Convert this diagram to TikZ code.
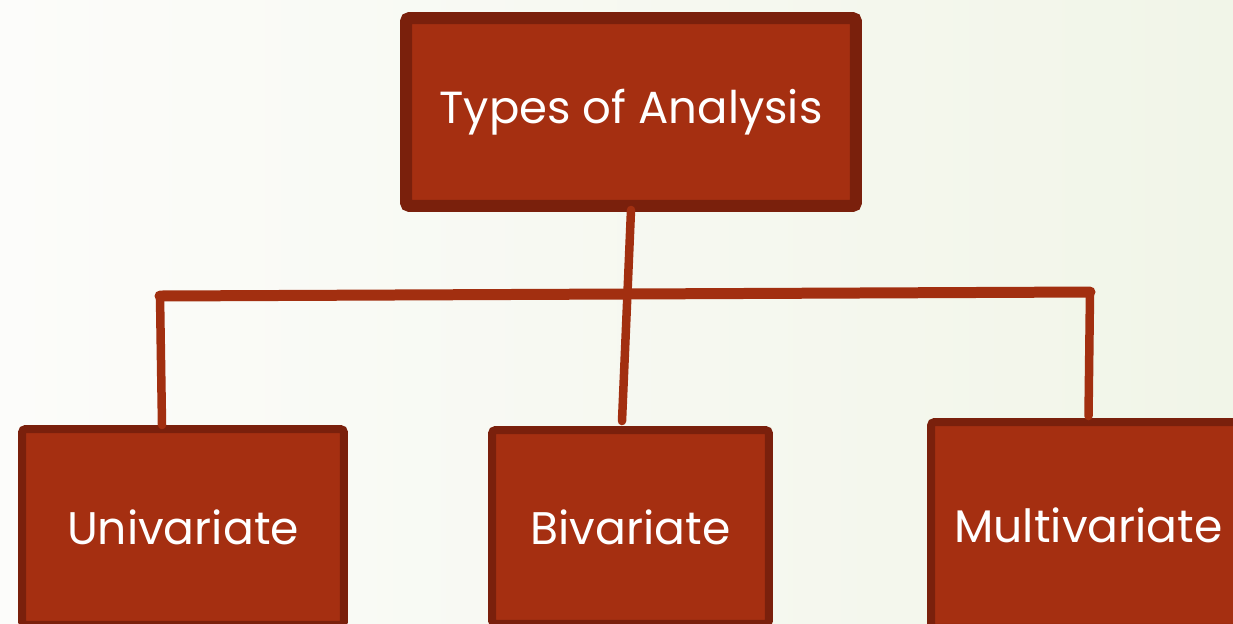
\documentclass[tikz,border=0pt]{standalone}
\usepackage{fontspec}
\setmainfont{Poppins}
\definecolor{boxfill}{HTML}{A52F11}
\definecolor{boxline}{HTML}{7A200C}
\definecolor{linkcol}{HTML}{A22F10}
\definecolor{bgleft}{HTML}{FCFCFA}
\definecolor{bgright}{HTML}{F1F5E8}
\begin{document}
\begin{tikzpicture}[x=0.02cm,y=-0.02cm,
	typebox/.style={draw=boxline,fill=boxfill,line width=0.16cm,rounded corners=2pt,text=white,inner sep=0pt},
	link/.style={draw=linkcol,line width=0.17cm,line cap=round,line join=round}]
		\useasboundingbox (0,0) rectangle (1233,623);
		\clip (0,0) rectangle (1233,623);
		\shade[left color=bgleft,right color=bgright] (0,0) rectangle (1233,623);
		\node[typebox,line width=0.24cm,minimum width=9cm,minimum height=3.76cm,font=\fontsize{25.6}{25.6}\selectfont] (types) at (631,112) {Types of Analysis};
		\node[typebox,minimum width=6.44cm,minimum height=3.92cm,font=\fontsize{26}{26}\selectfont] (uni) at (183,527) {Univariate};
		\node[typebox,minimum width=5.54cm,minimum height=3.88cm,font=\fontsize{26}{26}\selectfont] (bi) at (630.5,527) {Bivariate};
		\node[typebox,minimum width=6.3cm,minimum height=4.12cm,font=\fontsize{26}{26}\selectfont] (multi) at (1088.5,525) {Multivariate};
		\coordinate (barL) at (160,296);
		\coordinate (barR) at (1090,292);
		\draw[link] ([yshift=0.04cm]types.south) -- ([xshift=-0.17cm,yshift=0.1cm]bi.north);
		\draw[link] ([xshift=-0.42cm]uni.north) -- (barL);
		\draw[link] ([yshift=0.04cm]multi.north) -- (barR);
		\draw[link,line width=0.22cm] (barL) -- (barR);
\end{tikzpicture}
\end{document}
